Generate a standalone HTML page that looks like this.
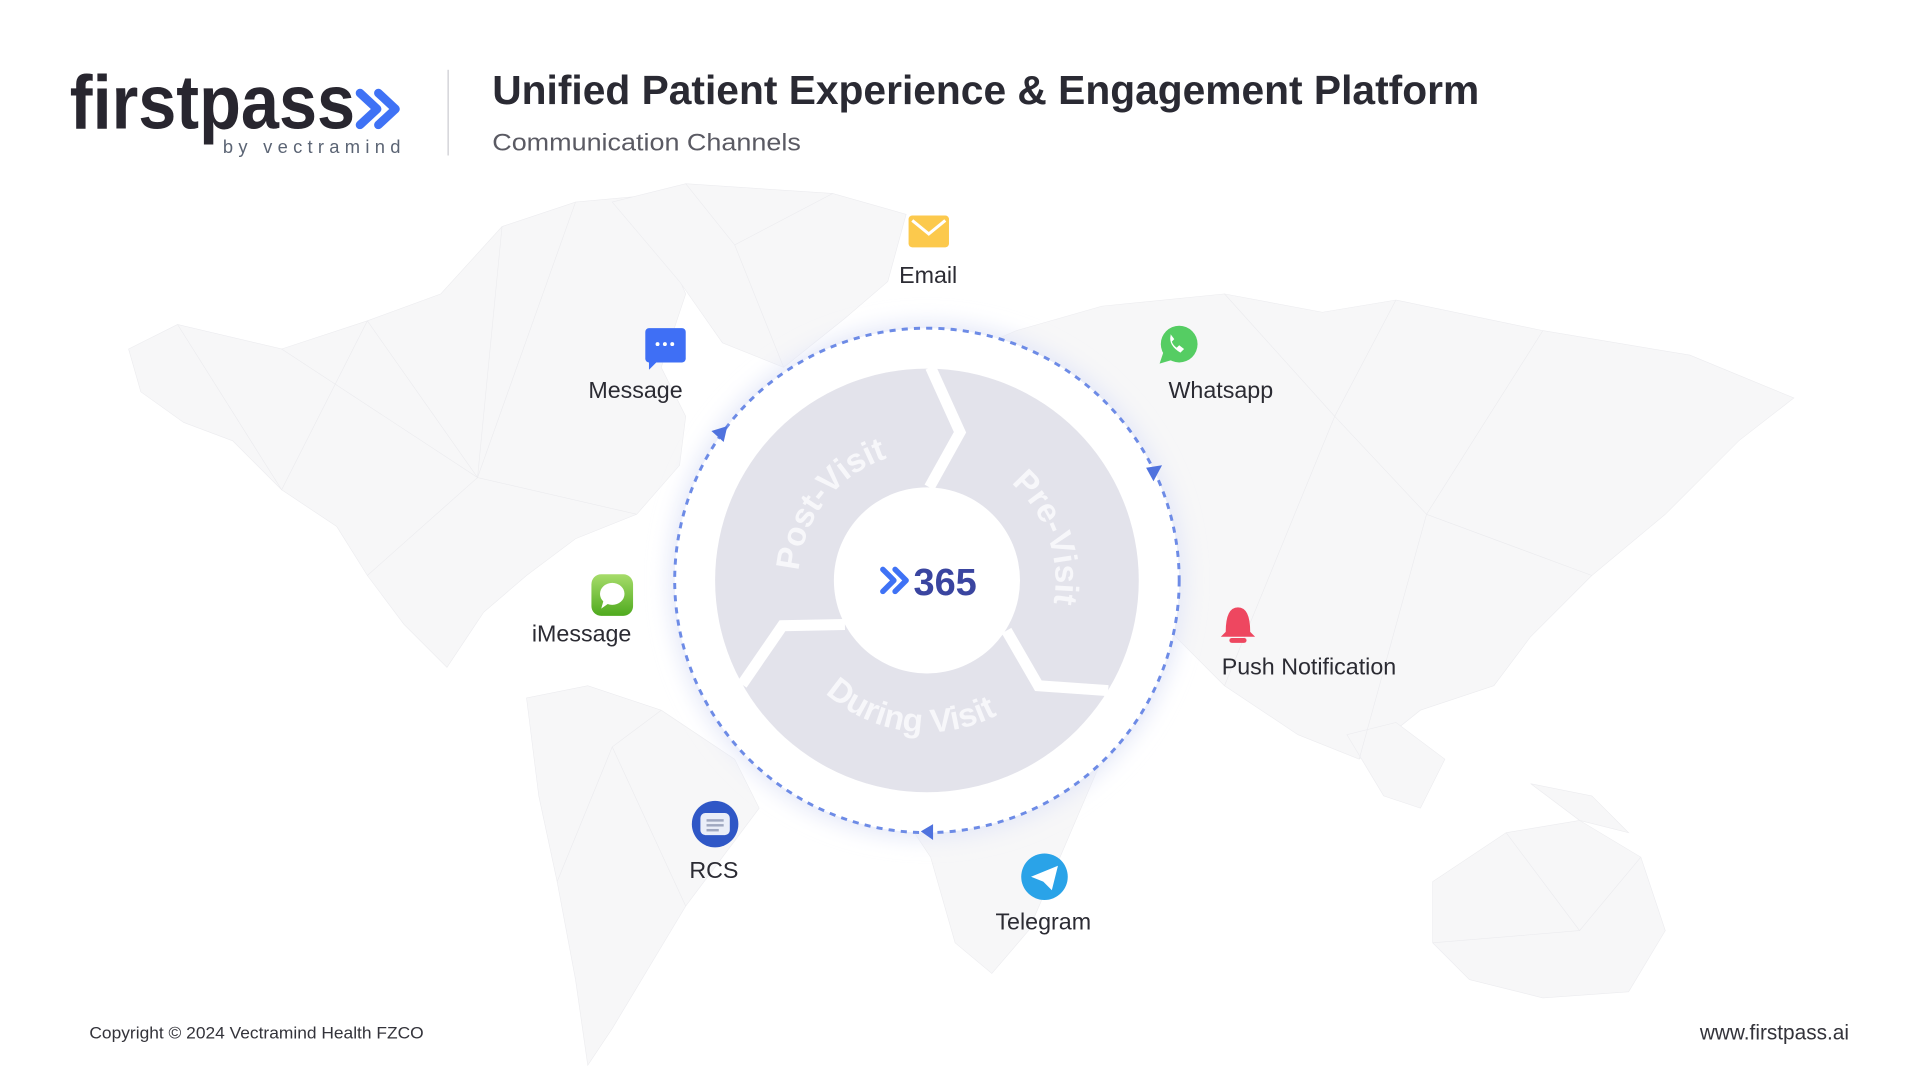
<!DOCTYPE html>
<html><head><meta charset="utf-8"><style>
html,body{margin:0;padding:0;background:#fff;width:1920px;height:1080px;overflow:hidden}
svg{display:block}
text{font-family:"Liberation Sans",sans-serif}
</style></head><body>
<svg width="1920" height="1080" viewBox="0 0 1568 882" preserveAspectRatio="none" xmlns="http://www.w3.org/2000/svg">
<defs>
<filter id="glow" x="-30%" y="-30%" width="160%" height="160%"><feGaussianBlur stdDeviation="9"/></filter>
<linearGradient id="ig" x1="0" y1="0" x2="0" y2="1"><stop offset="0" stop-color="#a6dc6a"/><stop offset="1" stop-color="#4faa1e"/></linearGradient>
<path id="cw" d="M757,369 A105,105 0 1,1 757,579 A105,105 0 1,1 757,369"/>
<path id="ccw" d="M633,474 A124,124 0 1,0 881,474 A124,124 0 1,0 633,474"/>
</defs>
<rect width="1568" height="882" fill="#fff"/>
<!-- faint world map -->
<g fill="#f7f7f8" stroke="#ececef" stroke-width="0.5">
<polygon points="105,285 145,265 230,285 300,262 360,240 410,185 470,165 525,160 560,240 540,300 560,340 555,380 520,420 470,440 430,470 395,500 365,545 330,510 300,470 275,430 230,400 190,360 150,345 115,320"/>
<polygon points="500,165 560,150 680,158 740,175 725,230 690,260 640,300 590,280 555,230"/>
<polygon points="430,570 480,560 540,580 600,620 620,660 590,700 560,740 530,790 500,840 480,870 470,800 455,720 440,650"/>
<polygon points="760,300 830,270 900,250 1000,240 1080,255 1140,245 1260,270 1380,290 1465,325 1420,360 1360,420 1300,470 1250,520 1220,560 1160,580 1110,620 1060,600 1000,560 960,520 930,470 900,420 860,360 800,330"/>
<polygon points="610,430 660,420 720,440 800,470 880,520 930,560 900,620 870,690 840,760 810,795 780,770 760,700 720,640 680,590 640,560 615,500"/>
<polygon points="1170,720 1230,680 1290,670 1340,700 1360,760 1330,810 1260,815 1200,800 1170,770"/>
<polygon points="1100,600 1140,590 1180,620 1160,660 1130,650"/>
<polygon points="1250,640 1300,650 1330,680 1290,670"/>
</g>
<g stroke="#ebebee" stroke-width="0.5" fill="none">
<path d="M145,265 L230,400 L300,262 L390,390 L410,185 M230,285 L390,390 L470,165 M300,470 L390,390 L520,420 M455,720 L500,610 L540,580 M500,610 L560,740 M1000,240 L1090,340 L1140,245 M1090,340 L1165,420 L1260,270 M1165,420 L1300,470 M1090,340 L1000,560 M1165,420 L1110,620 M1230,680 L1290,760 L1340,700 M1170,770 L1290,760 M560,150 L600,200 L680,158 M600,200 L640,300"/>
</g>
<!-- header -->
<text x="57" y="105" font-size="62" font-weight="700" fill="#28262f" textLength="233" lengthAdjust="spacingAndGlyphs">firstpass</text>
<path d="M294,76 L308,89 L294,102 M309,76 L323,89 L309,102" fill="none" stroke="#3f72f5" stroke-width="7" stroke-linecap="round" stroke-linejoin="round"/>
<text x="182" y="125" font-size="15" fill="#5b6474" textLength="145" lengthAdjust="spacing">by vectramind</text>
<line x1="366" y1="57" x2="366" y2="127" stroke="#d4d4d8" stroke-width="1.2"/>
<text x="402" y="85" font-size="33" font-weight="700" fill="#2a2a33" textLength="806" lengthAdjust="spacingAndGlyphs">Unified Patient Experience &amp; Engagement Platform</text>
<text x="402" y="123" font-size="20" fill="#5a5a63" textLength="252" lengthAdjust="spacingAndGlyphs">Communication Channels</text>
<!-- glow disc -->
<circle cx="757" cy="474" r="210" fill="#e3e7f8" filter="url(#glow)"/>
<circle cx="757" cy="474" r="206" fill="#fff"/>
<circle cx="757" cy="474" r="206" fill="none" stroke="#6d8be6" stroke-width="2.4" stroke-dasharray="5 5"/>
<polygon points="581,352 594,348 591,361" fill="#4f72de"/>
<polygon points="936,382 949,380 942,393" fill="#4f72de"/>
<polygon points="752,679 762,673 762,686" fill="#4f72de"/>
<!-- ring -->
<circle cx="757" cy="474" r="173" fill="#e3e3eb"/>
<circle cx="757" cy="474" r="76" fill="#fff"/>
<g fill="none" stroke="#fff" stroke-width="9" stroke-linejoin="miter">
<polyline points="760,300 784,353 759,398"/>
<polyline points="905,564 848,560 822,515"/>
<polyline points="606,559 639,511 690,510"/>
</g>
<g font-size="27" font-weight="700" fill="#f7f7fa">
<text><textPath href="#cw" startOffset="85.6%" text-anchor="middle">Post-Visit</textPath></text>
<text><textPath href="#cw" startOffset="19.6%" text-anchor="middle">Pre-Visit</textPath></text>
<text><textPath href="#ccw" startOffset="23%" text-anchor="middle">During Visit</textPath></text>
</g>
<path d="M721,465 L730,474 L721,483 M731,465 L740,474 L731,483" fill="none" stroke="#3f72f5" stroke-width="4.5" stroke-linecap="round" stroke-linejoin="round"/>
<text x="746" y="486" font-size="31" font-weight="700" fill="#3a45a0">365</text>
<!-- icons -->
<rect x="742" y="176" width="33" height="26" rx="3" fill="#fcc94c"/>
<path d="M745,180 L758.5,191 L772,180" fill="none" stroke="#fff" stroke-width="2.5"/>
<rect x="527" y="268" width="33" height="28" rx="3" fill="#3f6ff5"/>
<polygon points="530,294 530,302 538,294" fill="#3f6ff5"/>
<circle cx="537" cy="281" r="1.6" fill="#fff"/><circle cx="543" cy="281" r="1.6" fill="#fff"/><circle cx="549" cy="281" r="1.6" fill="#fff"/>
<circle cx="963" cy="281" r="15" fill="#55cd63"/>
<polygon points="950,288 947,297 957,294" fill="#55cd63"/>
<path d="M956,274 q-2,8 8,14 l3,-3 -4,-3 -2,2 q-3,-2 -4,-5 l2,-2 -3,-4z" fill="#fff"/>
<rect x="483" y="469" width="34" height="34" rx="8" fill="url(#ig)"/>
<ellipse cx="500" cy="485" rx="10" ry="9" fill="#fff"/>
<polygon points="493,490 491,497 498,492" fill="#fff"/>
<path d="M1001,516 q0,-20 10,-20 q10,0 10,20 l4,4 h-28z" fill="#ee4760"/>
<rect x="1004" y="521" width="14" height="4" rx="2" fill="#ee4760"/>
<circle cx="584" cy="673" r="19" fill="#2f57c6"/>
<rect x="572" y="664" width="24" height="18" rx="4" fill="#eaeef8"/>
<rect x="577" y="669" width="14" height="2" fill="#a0a8c0"/><rect x="577" y="673" width="14" height="2" fill="#a0a8c0"/><rect x="577" y="677" width="10" height="2" fill="#a0a8c0"/>
<circle cx="853" cy="716" r="19" fill="#2aa3e8"/>
<path d="M842,716 L864,707 L859,727 L852,720 Z" fill="#fff"/>
<!-- labels -->
<g font-size="19" fill="#2b2b33" text-anchor="middle">
<text x="758" y="231">Email</text>
<text x="519" y="325">Message</text>
<text x="997" y="325">Whatsapp</text>
<text x="475" y="524">iMessage</text>
<text x="1069" y="551">Push Notification</text>
<text x="583" y="717">RCS</text>
<text x="852" y="759">Telegram</text>
</g>
<text x="73" y="848" font-size="13.5" fill="#33333a" textLength="273" lengthAdjust="spacingAndGlyphs">Copyright © 2024 Vectramind Health FZCO</text>
<text x="1510" y="849" font-size="17" fill="#33333a" text-anchor="end">www.firstpass.ai</text>
</svg>
</body></html>
